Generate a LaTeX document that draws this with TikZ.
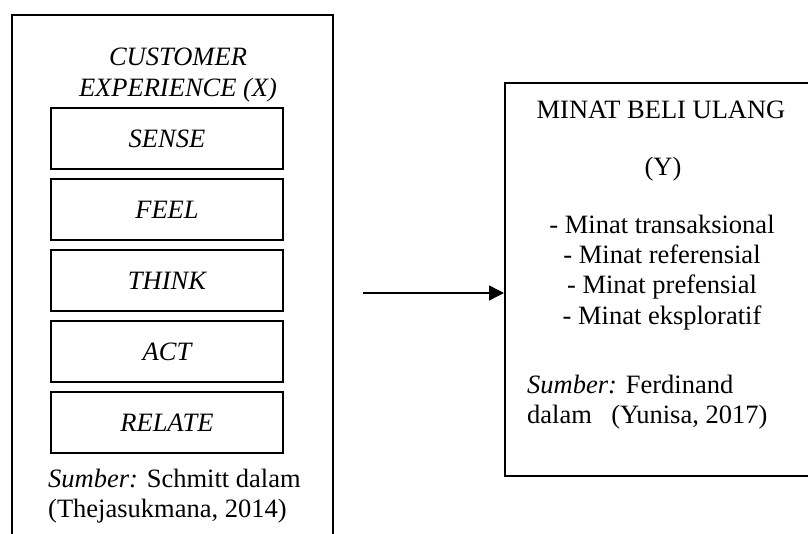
\documentclass[tikz,border=0pt]{standalone}
\usepackage{fontspec}
\setmainfont{Liberation Serif}
\usetikzlibrary{positioning, arrows.meta}

\begin{document}
\begin{tikzpicture}[
  x=1bp, y=1bp,
  every node/.style={font=\fontsize{26.5bp}{30.3bp}\selectfont},
  frame/.style={draw, line width=2bp, fill=white},
  aspect/.style={draw, line width=2bp, minimum width=232bp, minimum height=61bp, inner sep=0pt, font=\fontsize{26.5bp}{30.3bp}\selectfont\itshape},
  txt/.style={inner sep=0pt},
  arrow/.style={-{Triangle[length=15bp, width=15bp]}, line width=1.4bp},
]
\useasboundingbox (0,0) rectangle (808,-534);

% faint watermark behind (right)
\fill[black!3] (713,0) .. controls (692,35) .. (676,83) -- (808,83) -- (808,0) -- cycle;
\fill[black!3] (657,476) .. controls (648,510) .. (627,534) -- (808,534) -- (808,476) -- cycle;

% Customer experience (left)
\node[frame, minimum width=321bp, minimum height=545bp] (xbox) at (172.5,-287.5) {};
\node[txt, align=center] (xtitle) at (178,-75) {\textit{CUSTOMER}\\\textit{EXPERIENCE (X)}};
\node[aspect] (sense) at (167,-138.5) {SENSE};
\node[aspect, below=8bp of sense] (feel) {FEEL};
\node[aspect, below=8bp of feel] (think) {THINK};
\node[aspect, below=8bp of think] (act) {ACT};
\node[aspect, below=8bp of act] (relate) {RELATE};
\node[txt, align=left, anchor=west] (xsrc) at (48,-496)
  {{\itshape Sumber:} Schmitt dalam\\(Thejasukmana, 2014)};

% Minat beli ulang (right)
\node[frame, minimum width=312bp, minimum height=393bp] (ybox) at (661,-279.5) {};
\node[txt, anchor=base] (ytitle) at (661,-119) {MINAT BELI ULANG};
\node[txt, anchor=base] (ylabel) at (663,-176) {(Y)};
\node[txt, align=center] (ylist) at (662,-272.3)
  {- Minat transaksional\\- Minat referensial\\- Minat prefensial\\- Minat eksploratif};
\node[txt, align=left, anchor=west] (ysrc) at (527,-402)
  {{\itshape Sumber:} Ferdinand\\dalam\hspace{0.73em}(Yunisa, 2017)};

\coordinate (arrtail) at (363,-293);
\draw[arrow] (arrtail) -- (arrtail -| ybox.west);
\end{tikzpicture}
\end{document}
